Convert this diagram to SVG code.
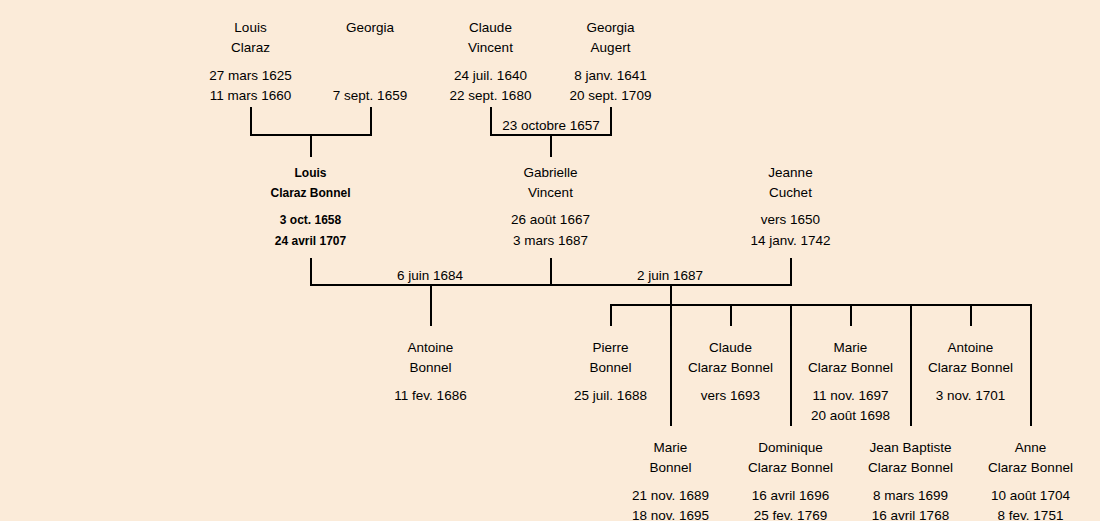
<svg xmlns="http://www.w3.org/2000/svg" width="1100" height="521" viewBox="0 0 1100 521">
<style>
text{font-family:"Liberation Sans",Arial,sans-serif;font-size:13.5px;fill:#000;text-anchor:middle}
.b{font-weight:bold;font-size:12px}
.ln{fill:none;stroke:#000;stroke-width:2;stroke-linejoin:miter}
</style>
<rect width="1100" height="521" fill="#fbebd9"/>
<g id="connectors" class="ln">
<path d="M251,107V135H371V107M311,135V157"/>
<path d="M491,107V135H611V107M551,135V157"/>
<path d="M311,258V285H791V258M551,258V285M431,285V326M671,285V426"/>
<path d="M611,326V305H1031V426M731,305V326M851,305V326M971,305V326M791,305V426M911,305V426"/>
</g>
<g id="labels">
<text x="551" y="130">23 octobre 1657</text>
<text x="430" y="280">6 juin 1684</text>
<text x="670" y="280">2 juin 1687</text>
</g>
<g id="louis-claraz"><text x="250.5" y="32">Louis</text><text x="250.5" y="52">Claraz</text><text x="250.5" y="80">27 mars 1625</text><text x="250.5" y="100">11 mars 1660</text></g>
<g id="georgia"><text x="370" y="32">Georgia</text><text x="370" y="100">7 sept. 1659</text></g>
<g id="claude-vincent"><text x="490.5" y="32">Claude</text><text x="490.5" y="52">Vincent</text><text x="490.5" y="80">24 juil. 1640</text><text x="490.5" y="100">22 sept. 1680</text></g>
<g id="georgia-augert"><text x="610.5" y="32">Georgia</text><text x="610.5" y="52">Augert</text><text x="610.5" y="80">8 janv. 1641</text><text x="610.5" y="100">20 sept. 1709</text></g>
<g id="louis-claraz-bonnel"><text class="b" x="310.5" y="177">Louis</text><text class="b" x="310.5" y="197">Claraz Bonnel</text><text class="b" x="310.5" y="224">3 oct. 1658</text><text class="b" x="310.5" y="245">24 avril 1707</text></g>
<g id="gabrielle-vincent"><text x="550.5" y="177">Gabrielle</text><text x="550.5" y="197">Vincent</text><text x="550.5" y="224">26 août 1667</text><text x="550.5" y="245">3 mars 1687</text></g>
<g id="jeanne-cuchet"><text x="790.5" y="177">Jeanne</text><text x="790.5" y="197">Cuchet</text><text x="790.5" y="224">vers 1650</text><text x="790.5" y="245">14 janv. 1742</text></g>
<g id="antoine-bonnel"><text x="430.5" y="352">Antoine</text><text x="430.5" y="372">Bonnel</text><text x="430.5" y="400">11 fev. 1686</text></g>
<g id="pierre-bonnel"><text x="610.5" y="352">Pierre</text><text x="610.5" y="372">Bonnel</text><text x="610.5" y="400">25 juil. 1688</text></g>
<g id="claude-claraz-bonnel"><text x="730.5" y="352">Claude</text><text x="730.5" y="372">Claraz Bonnel</text><text x="730.5" y="400">vers 1693</text></g>
<g id="marie-claraz-bonnel"><text x="850.5" y="352">Marie</text><text x="850.5" y="372">Claraz Bonnel</text><text x="850.5" y="400">11 nov. 1697</text><text x="850.5" y="420">20 août 1698</text></g>
<g id="antoine-claraz-bonnel"><text x="970.5" y="352">Antoine</text><text x="970.5" y="372">Claraz Bonnel</text><text x="970.5" y="400">3 nov. 1701</text></g>
<g id="marie-bonnel"><text x="670.5" y="452">Marie</text><text x="670.5" y="472">Bonnel</text><text x="670.5" y="500">21 nov. 1689</text><text x="670.5" y="520">18 nov. 1695</text></g>
<g id="dominique-claraz-bonnel"><text x="790.5" y="452">Dominique</text><text x="790.5" y="472">Claraz Bonnel</text><text x="790.5" y="500">16 avril 1696</text><text x="790.5" y="520">25 fev. 1769</text></g>
<g id="jean-baptiste-claraz-bonnel"><text x="910.5" y="452">Jean Baptiste</text><text x="910.5" y="472">Claraz Bonnel</text><text x="910.5" y="500">8 mars 1699</text><text x="910.5" y="520">16 avril 1768</text></g>
<g id="anne-claraz-bonnel"><text x="1030.5" y="452">Anne</text><text x="1030.5" y="472">Claraz Bonnel</text><text x="1030.5" y="500">10 août 1704</text><text x="1030.5" y="520">8 fev. 1751</text></g>
</svg>
